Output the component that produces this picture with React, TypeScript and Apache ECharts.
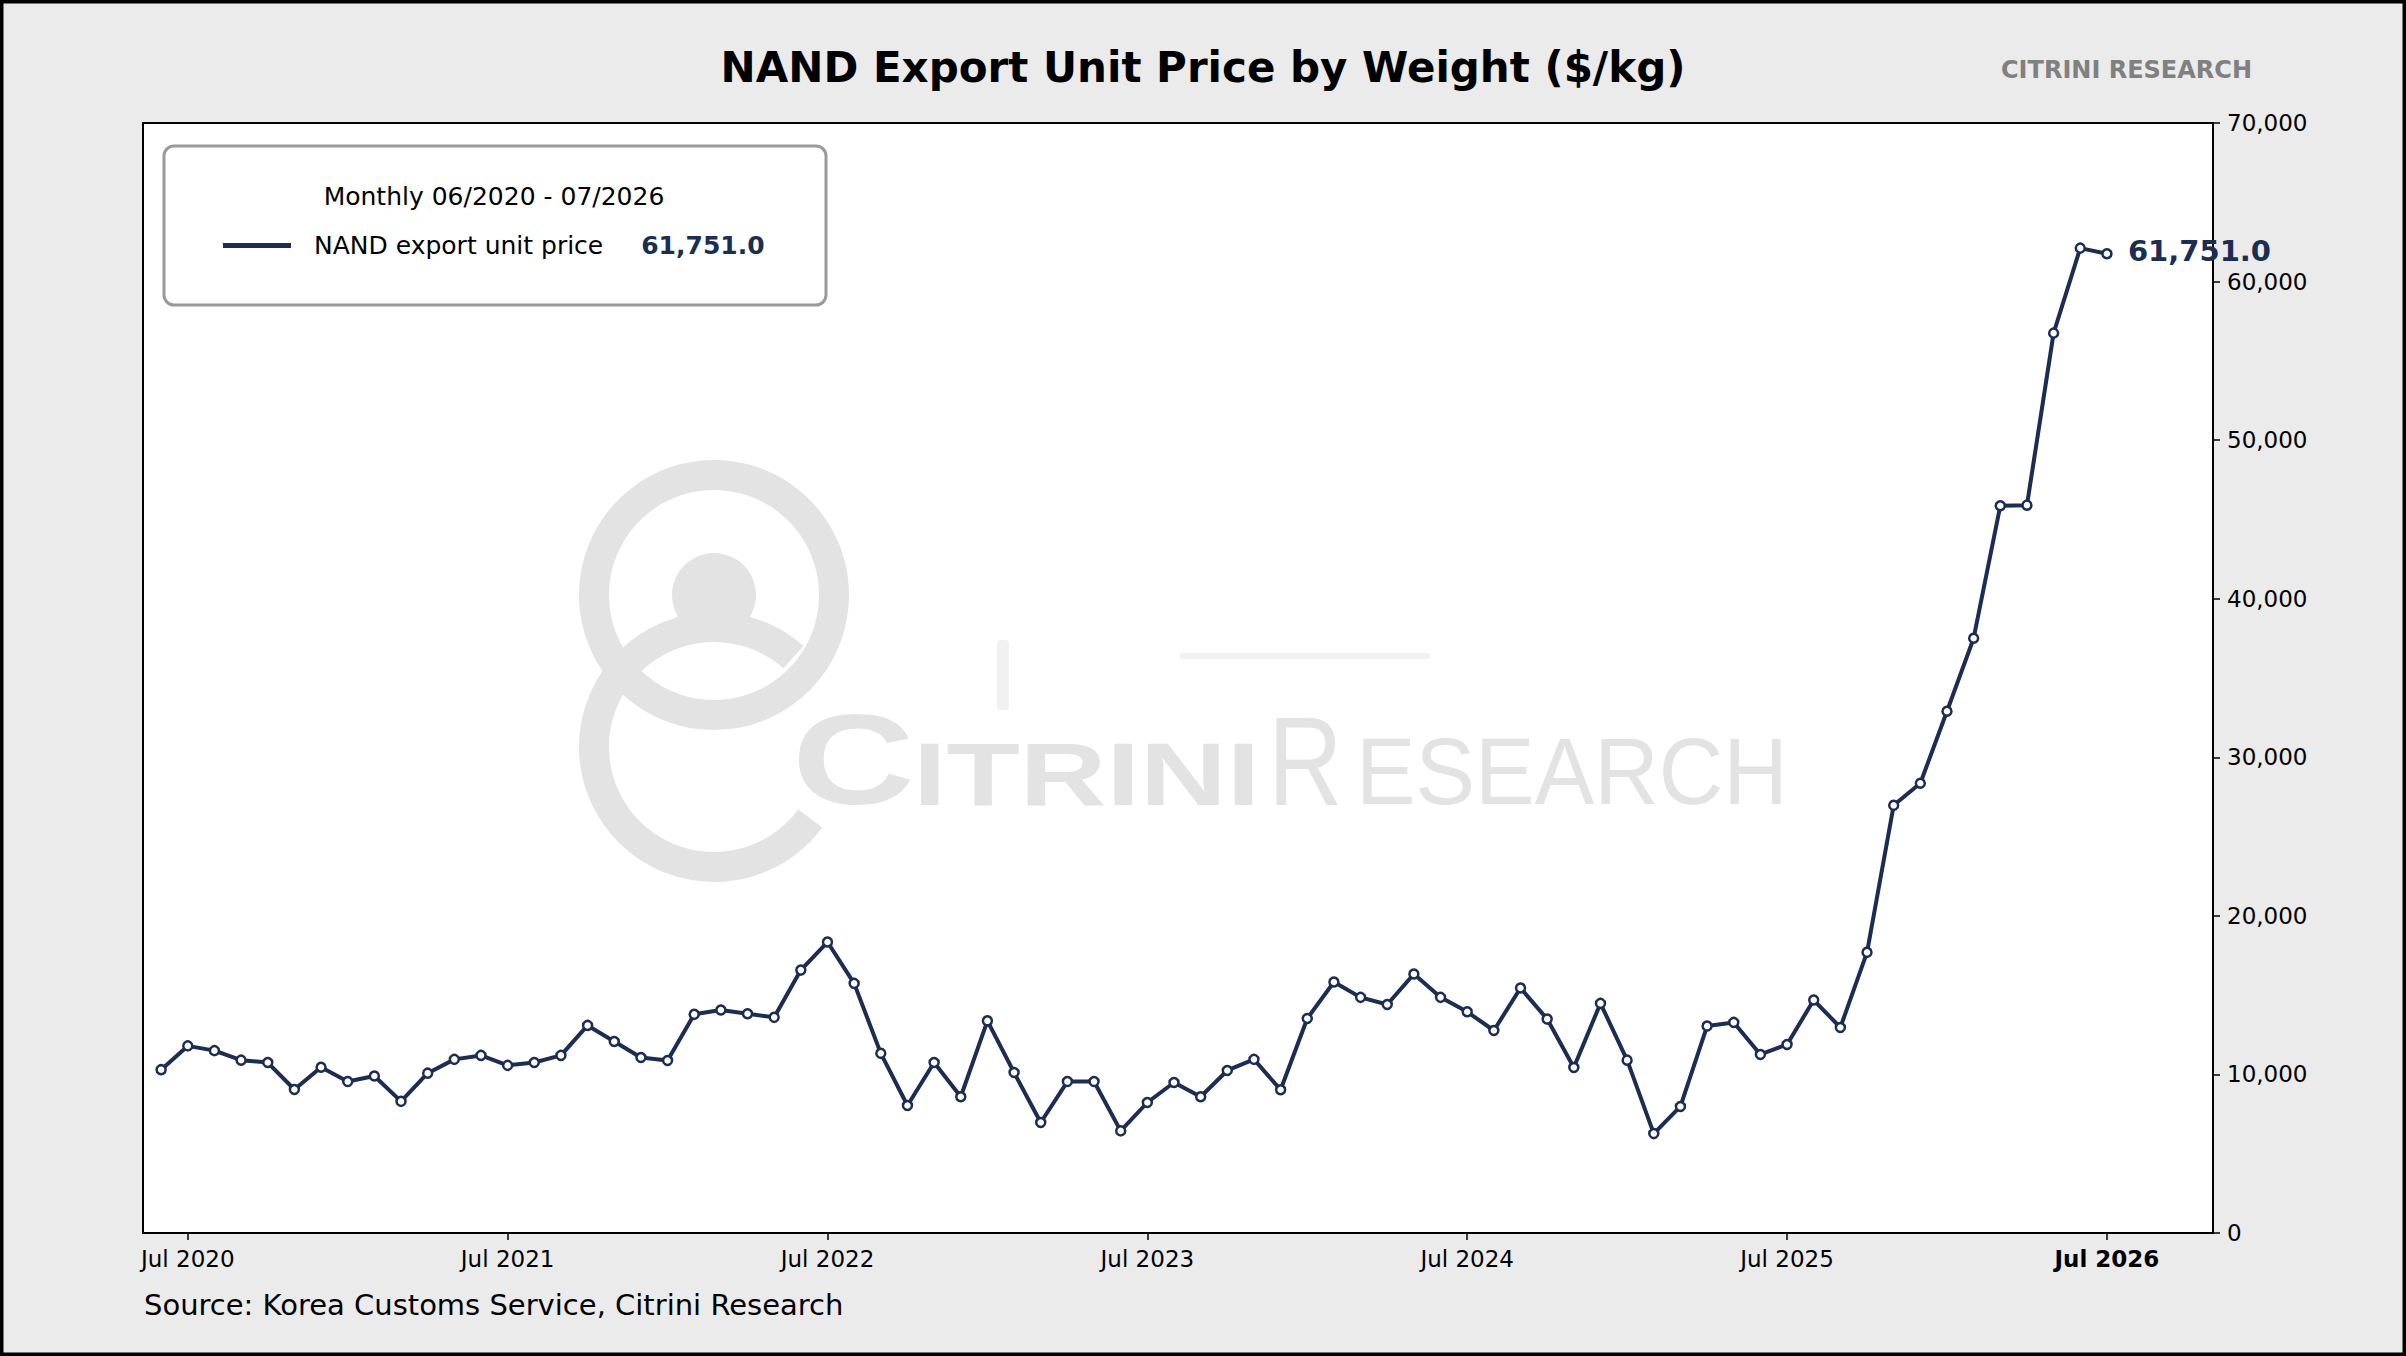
import React, { useEffect, useRef } from 'react';
import * as echarts from 'echarts';

// ---- Data ----
const START_YEAR = 2020;
const START_MONTH = 6; // June 2020, monthly through July 2026
const SERIES_NAME = 'NAND export unit price';
const values = [
  10300, 11800, 11500, 10900, 10750, 9050, 10450, 9550, 9900, 8300,
  10080, 10950, 11200, 10570, 10750, 11200, 13090, 12080, 11070, 10880,
  13790, 14060, 13830, 13600, 16580, 18350, 15740, 11330, 8040, 10750,
  8590, 13380, 10120, 6970, 9550, 9550, 6440, 8230, 9490, 8590,
  10250, 10950, 9030, 13530, 15830, 14860, 14410, 16330, 14860, 13950,
  12770, 15450, 13490, 10440, 14480, 10900, 6270, 7980, 13050, 13280,
  11260, 11890, 14690, 12960, 17700, 26970, 28360, 32900, 37510, 45860,
  45900, 56750, 62110, 61751,
];
const xTickIndex = [1, 13, 25, 37, 49, 61, 73];
const xTickLabels = ['Jul 2020', 'Jul 2021', 'Jul 2022', 'Jul 2023', 'Jul 2024', 'Jul 2025', 'Jul 2026'];
const yMin = 0;
const yMax = 70000;
const yInterval = 10000;
const TITLE = 'NAND Export Unit Price by Weight ($/kg)';
const BRAND = 'CITRINI RESEARCH';
const LEGEND_TITLE = 'Monthly 06/2020 - 07/2026';
const SOURCE = 'Source: Korea Customs Service, Citrini Research';

const MONTH_NAMES = ['Jan', 'Feb', 'Mar', 'Apr', 'May', 'Jun', 'Jul', 'Aug', 'Sep', 'Oct', 'Nov', 'Dec'];
const months = values.map((_, i) => {
  const m = START_MONTH - 1 + i;
  return `${MONTH_NAMES[m % 12]} ${START_YEAR + Math.floor(m / 12)}`;
});

const NAVY = '#1c2d54';
const WM = '#e3e3e3';
const FONT = '"DejaVu Sans", sans-serif';
const WFONT = '"Liberation Sans", Arial, sans-serif';

function fmtNum(v: number, d = 0) {
  return v.toLocaleString('en-US', { minimumFractionDigits: d, maximumFractionDigits: d });
}

const deg = (a: number) => (a * Math.PI) / 180;

function txt(text: string, x: number, y: number, size: number, opts: any = {}) {
  return {
    type: 'text',
    x,
    y,
    z: opts.z ?? 1,
    scaleX: opts.scaleX ?? 1,
    silent: true,
    style: {
      text,
      x: 0,
      y: 0,
      fontSize: size,
      fontWeight: opts.weight ?? 'normal',
      fontFamily: opts.family ?? FONT,
      fill: opts.fill ?? '#000',
      align: opts.align ?? 'left',
      textAlign: opts.align ?? 'left',
      verticalAlign: 'middle',
      textVerticalAlign: 'middle',
    },
  };
}

export default function App() {
  const ref = useRef<HTMLDivElement>(null);
  useEffect(() => {
    if (!ref.current) return;
    document.body.style.margin = '0';
    document.documentElement.style.margin = '0';
    const chart = echarts.init(ref.current, null, { renderer: 'svg' });
    const data = values.map((v, i) => [i, v]);
    const last = values[values.length - 1];

    const graphic: any[] = [
      // outer frame
      {
        type: 'rect', z: 10, silent: true,
        shape: { x: 0, y: 0, width: 2406, height: 1356 },
        style: { fill: 'none', stroke: '#000', lineWidth: 7 },
      },
      txt(TITLE, 1203, 67, 42, { weight: 'bold', align: 'center' }),
      txt(BRAND, 2252, 70, 24, { weight: 'bold', fill: '#808080', align: 'right' }),
      txt(SOURCE, 144, 1305, 29),
      // watermark logo
      { type: 'ring', z: 1, silent: true, shape: { cx: 714, cy: 595, r: 135, r0: 105 }, style: { fill: WM } },
      { type: 'circle', z: 1, silent: true, shape: { cx: 714, cy: 595, r: 42 }, style: { fill: WM } },
      {
        type: 'arc', z: 1, silent: true,
        shape: { cx: 714, cy: 747, r: 120, startAngle: deg(36.6), endAngle: deg(311.5), clockwise: true },
        style: { fill: 'none', stroke: WM, lineWidth: 30 },
      },
      txt('C', 792, 760, 128, { weight: 'bold', family: WFONT, fill: WM, scaleX: 1.33 }),
      txt('ITRINI', 913, 774, 89, { weight: 'bold', family: WFONT, fill: WM, scaleX: 1.35 }),
      txt('R', 1268, 761, 126, { family: WFONT, fill: WM, scaleX: 0.82 }),
      txt('ESEARCH', 1356, 772, 95, { family: WFONT, fill: WM, scaleX: 0.94 }),
      // faint ghost marks of the watermark
      { type: 'rect', z: 1, silent: true, shape: { x: 997, y: 640, width: 12, height: 70, r: 4 }, style: { fill: '#f1f1f1' } },
      { type: 'rect', z: 1, silent: true, shape: { x: 1180, y: 653, width: 250, height: 6, r: 3 }, style: { fill: '#f1f1f1' } },
      // legend box
      {
        type: 'rect', z: 1, silent: true,
        shape: { x: 164, y: 146, width: 662, height: 159, r: 10 },
        style: { fill: '#fff', stroke: '#9a9a9a', lineWidth: 3 },
      },
      txt(LEGEND_TITLE, 494, 196, 25, { z: 2, align: 'center' }),
    ];

    chart.setOption({
      animation: false,
      backgroundColor: '#ebebeb',
      textStyle: { fontFamily: FONT },
      grid: {
        left: 143, top: 123, width: 2070, height: 1110,
        show: true, backgroundColor: '#fff', borderColor: '#000', borderWidth: 2,
        containLabel: false, outerBoundsMode: 'none',
      },
      tooltip: {
        trigger: 'axis',
        formatter: (ps: any) => {
          const p = ps[0];
          return `${months[p.value[0]]}<br/>${SERIES_NAME}: ${fmtNum(p.value[1], 1)}`;
        },
      },
      legend: {
        left: 223, top: 233, padding: 0, icon: 'rect', itemWidth: 68, itemHeight: 5,
        selectedMode: false,
        data: [{ name: SERIES_NAME, itemStyle: { color: NAVY, borderWidth: 0 } }],
        formatter: (name: string) => `{n|${name}}{v|${fmtNum(last, 1)}}`,
        textStyle: {
          rich: {
            n: { fontSize: 25, color: '#000', fontFamily: FONT, padding: [0, 0, 0, 18] },
            v: { fontSize: 25, color: NAVY, fontWeight: 'bold', fontFamily: FONT, padding: [0, 0, 0, 38] },
          },
        },
      },
      xAxis: {
        type: 'value', min: -0.68, max: 76.98,
        splitLine: { show: false },
        axisLine: { show: true, onZero: false, lineStyle: { color: '#000', width: 2 } },
        axisTick: { show: true, customValues: xTickIndex, length: 7, lineStyle: { color: '#000', width: 1.5 } },
        axisLabel: {
          customValues: xTickIndex,
          fontSize: 23, color: '#000', fontFamily: FONT, margin: 14,
          formatter: (v: number) => {
            const i = xTickIndex.indexOf(Math.round(v));
            if (i < 0) return '';
            return i === xTickIndex.length - 1 ? `{b|${xTickLabels[i]}}` : xTickLabels[i];
          },
          rich: { b: { fontSize: 23, fontWeight: 'bold', color: '#000', fontFamily: FONT } },
        },
      },
      yAxis: {
        type: 'value', position: 'right', min: yMin, max: yMax, interval: yInterval,
        splitLine: { show: false },
        axisLine: { show: true, onZero: false, lineStyle: { color: '#000', width: 2 } },
        axisTick: { show: true, length: 7, lineStyle: { color: '#000', width: 1.5 } },
        axisLabel: { fontSize: 23, color: '#000', fontFamily: FONT, margin: 14, formatter: (v: number) => fmtNum(v) },
      },
      series: [
        {
          type: 'line', name: SERIES_NAME, data, z: 5,
          symbol: 'circle', symbolSize: 9, showSymbol: true,
          lineStyle: { color: NAVY, width: 4 },
          itemStyle: { color: '#fff', borderColor: NAVY, borderWidth: 2.5 },
          endLabel: {
            show: true, distance: 21, offset: [0, -3],
            formatter: (p: any) => fmtNum(p.value[1], 1),
            fontSize: 29, fontWeight: 'bold', color: NAVY, fontFamily: FONT,
          },
        },
      ],
      graphic,
    });
    return () => chart.dispose();
  }, []);
  return <div ref={ref} style={{ position: 'absolute', left: 0, top: 0, width: 2406, height: 1356 }} />;
}
